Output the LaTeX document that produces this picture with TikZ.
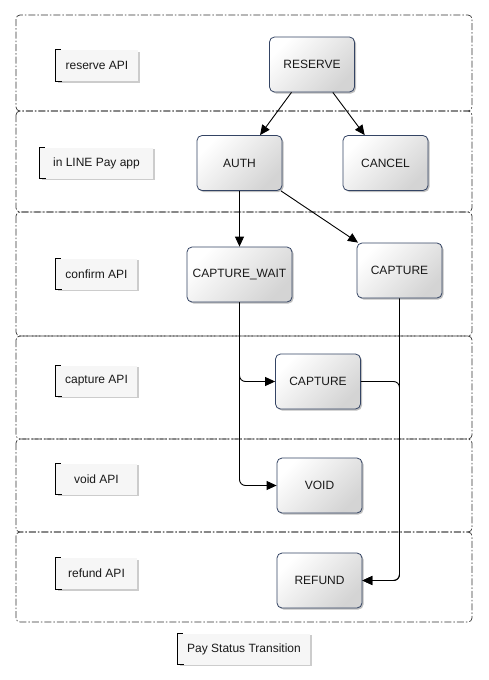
\documentclass[tikz,border=0pt]{standalone}
\usepackage{fontspec}
\setmainfont{Liberation Sans}
\usetikzlibrary{shadows,arrows.meta}
\definecolor{nodeborder}{RGB}{52,68,100}
\definecolor{lanecol}{RGB}{50,50,50}
\definecolor{labelfill}{RGB}{246,246,246}
\begin{document}
\begin{tikzpicture}[x=1pt,y=-1pt,
  font=\fontsize{12}{14}\selectfont,
  state/.style={draw=nodeborder, line width=0.8pt, rounded corners=5pt,
    minimum width=85pt, minimum height=55pt, inner sep=0pt,
    top color=white, bottom color=black!17, shading angle=45,
    drop shadow={shadow xshift=1.5pt, shadow yshift=-1.5pt, opacity=0.25, fill=black},
    text=black!90},
  lbl/.style={fill=labelfill, minimum height=31pt, inner sep=0pt,
    drop shadow={shadow xshift=1.5pt, shadow yshift=-1.5pt, opacity=0.2, fill=black},
    text=black!90},
  lane/.style={draw=lanecol, line width=0.7pt, rounded corners=4pt,
    dash pattern=on 7pt off 2pt on 1.5pt off 2pt},
  arr/.style={-{Triangle[length=10pt,width=9pt]}, line width=0.9pt, rounded corners=6pt},
  bracket/.style={line width=0.9pt}]
\useasboundingbox (0,0) rectangle (488,680);

% lanes
\foreach \a/\b in {15/111,111/212,212/336,336/439,439/532,532/622}
  \draw[lane] (16,\a) rectangle (472,\b);

% lane labels
\node[lbl, minimum width=82pt]  (l1) at (97,65.5)  {reserve API};
\node[lbl, minimum width=113pt] (l2) at (96.5,163) {in LINE Pay app};
\node[lbl, minimum width=81pt]  (l3) at (96.5,274) {confirm API};
\node[lbl, minimum width=81pt]  (l4) at (96.5,381) {capture API};
\node[lbl, minimum width=81pt]  (l5) at (96.5,479) {void API};
\node[lbl, minimum width=81pt]  (l6) at (96.5,573.5) {refund API};
\node[lbl, minimum width=132pt] (l7) at (244,649)  {Pay Status Transition};
\foreach \n in {l1,l2,l3,l4,l5,l6,l7}
  \draw[bracket] ([xshift=5pt]\n.north west) -- (\n.north west) -- (\n.south west) -- ([xshift=6pt]\n.south west);

% states
\node[state] (reserve) at (312,64.5) {RESERVE};
\node[state] (auth) at (239.5,163) {AUTH};
\node[state] (cancel) at (385.5,163) {CANCEL};
\node[state, minimum width=105pt] (cw) at (239.5,274.5) {CAPTURE\_WAIT};
\node[state] (cap3) at (399.5,270.5) {CAPTURE};
\node[state] (cap4) at (318,381.5) {CAPTURE};
\node[state] (void) at (319.5,485.5) {VOID};
\node[state] (refund) at (319.5,580.5) {REFUND};

% transitions
\draw[arr] (reserve) -- (auth);
\draw[arr] (reserve) -- (cancel);
\draw[arr] (auth) -- (cw);
\draw[arr] (auth) -- (cap3);
\draw[arr] (cw.south) |- (cap4.west);
\draw[arr] (cw.south) |- (void.west);
\draw[arr] (cap3.south) |- (refund.east);
\draw[arr] (cap4.east) -| (cap3.south |- refund.east) -- (refund.east);
\end{tikzpicture}
\end{document}
